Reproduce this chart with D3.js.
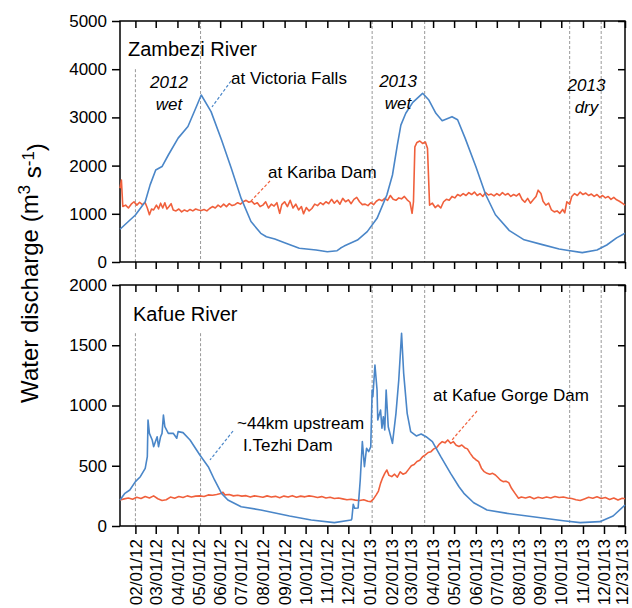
<!DOCTYPE html>
<meta charset="utf-8">
<body style="margin:0">
<script src="https://d3js.org/d3.v7.min.js"></script>
<script>

// Discharge series, [date, m3/s]

var victoriaFalls = [
  ["2012-01-10",680],["2012-02-01",975],["2012-02-15",1250],["2012-02-22",1600],["2012-03-01",1910],
  ["2012-03-10",1980],["2012-03-19",2220],["2012-04-02",2570],["2012-04-16",2810],["2012-04-28",3220],
  ["2012-05-05",3465],["2012-05-19",3120],["2012-06-03",2530],["2012-06-17",1940],["2012-07-01",1320],
  ["2012-07-15",840],["2012-07-29",595],["2012-08-06",525],["2012-08-18",477],["2012-09-01",400],
  ["2012-09-22",284],["2012-10-16",249],["2012-11-01",214],["2012-11-15",235],["2012-11-20",290],
  ["2012-11-25",330],["2012-12-14",456],["2012-12-28",630],["2013-01-11",906],["2013-01-25",1390],
  ["2013-02-02",1805],["2013-02-09",2430],["2013-02-14",2840],["2013-02-21",3085],["2013-03-03",3313],
  ["2013-03-17",3500],["2013-03-26",3360],["2013-04-05",3085],["2013-04-14",2930],["2013-04-28",3015],
  ["2013-05-06",2950],["2013-05-17",2560],["2013-06-01",1980],["2013-06-15",1400],["2013-06-29",980],
  ["2013-07-19",650],["2013-08-09",460],["2013-09-04",360],["2013-09-28",270],["2013-10-09",245],
  ["2013-10-31",195],["2013-11-21",250],["2013-12-05",353],["2013-12-19",500],["2013-12-31",595]
];

var karibaDam = [
  ["2012-01-10",1530],["2012-01-12",1700],["2012-01-14",1150],["2012-01-18",1180],["2012-01-22",1120],
  ["2012-01-26",1200],["2012-01-30",1250],["2012-02-03",1180],["2012-02-07",1240],["2012-02-11",1190],
  ["2012-02-15",1230],["2012-02-18",1120],["2012-02-21",980],["2012-02-24",1100],["2012-02-27",1080],
  ["2012-03-02",1180],["2012-03-05",1100],["2012-03-08",1220],["2012-03-11",1120],["2012-03-14",1230],
  ["2012-03-17",1100],["2012-03-20",1150],["2012-03-23",1210],["2012-03-26",1080],["2012-03-30",1060],
  ["2012-04-03",1100],["2012-04-07",1040],["2012-04-11",1080],["2012-04-15",1050],["2012-04-19",1090],
  ["2012-04-23",1060],["2012-04-27",1100],["2012-05-01",1080],["2012-05-05",1070],["2012-05-09",1090],
  ["2012-05-13",1060],["2012-05-17",1110],["2012-05-21",1150],["2012-05-25",1120],["2012-05-29",1180],
  ["2012-06-02",1140],["2012-06-06",1200],["2012-06-10",1150],["2012-06-14",1210],["2012-06-18",1170],
  ["2012-06-22",1190],["2012-06-26",1230],["2012-06-30",1200],["2012-07-04",1250],["2012-07-08",1280],
  ["2012-07-12",1240],["2012-07-16",1260],["2012-07-20",1200],["2012-07-24",1230],["2012-07-28",1150],
  ["2012-08-01",1180],["2012-08-05",1250],["2012-08-09",1120],["2012-08-13",1200],["2012-08-17",1160],
  ["2012-08-21",1230],["2012-08-25",1010],["2012-08-28",1190],["2012-09-01",1250],["2012-09-05",1150],
  ["2012-09-09",1280],["2012-09-13",1120],["2012-09-17",1200],["2012-09-21",1080],["2012-09-25",1150],
  ["2012-09-28",1000],["2012-10-02",1130],["2012-10-06",1060],["2012-10-10",1110],["2012-10-14",1200],
  ["2012-10-18",1170],["2012-10-22",1230],["2012-10-26",1190],["2012-10-30",1250],["2012-11-03",1210],
  ["2012-11-07",1300],["2012-11-11",1220],["2012-11-15",1280],["2012-11-19",1200],["2012-11-23",1320],
  ["2012-11-27",1250],["2012-12-01",1290],["2012-12-05",1210],["2012-12-09",1300],["2012-12-13",1340],
  ["2012-12-17",1250],["2012-12-21",1190],["2012-12-25",1200],["2012-12-29",1170],["2013-01-02",1230],
  ["2013-01-06",1190],["2013-01-10",1260],["2013-01-14",1300],["2013-01-18",1270],["2013-01-22",1320],
  ["2013-01-26",1280],["2013-01-30",1380],["2013-02-03",1300],["2013-02-07",1280],["2013-02-11",1330],
  ["2013-02-15",1310],["2013-02-19",1360],["2013-02-23",1290],["2013-02-27",1240],["2013-03-02",1010],
  ["2013-03-04",1250],["2013-03-06",2390],["2013-03-09",2480],["2013-03-13",2510],["2013-03-17",2460],
  ["2013-03-21",2490],["2013-03-24",2360],["2013-03-27",1180],["2013-03-31",1220],["2013-04-04",1130],
  ["2013-04-08",1180],["2013-04-12",1120],["2013-04-16",1250],["2013-04-20",1300],["2013-04-24",1280],
  ["2013-04-28",1360],["2013-05-02",1330],["2013-05-06",1400],["2013-05-10",1370],["2013-05-14",1420],
  ["2013-05-18",1380],["2013-05-22",1440],["2013-05-26",1400],["2013-05-30",1450],["2013-06-03",1380],
  ["2013-06-07",1420],["2013-06-11",1360],["2013-06-15",1440],["2013-06-19",1390],["2013-06-23",1410],
  ["2013-06-27",1370],["2013-07-01",1420],["2013-07-05",1380],["2013-07-09",1440],["2013-07-13",1390],
  ["2013-07-17",1420],["2013-07-21",1360],["2013-07-25",1400],["2013-07-29",1370],["2013-08-02",1420],
  ["2013-08-06",1300],["2013-08-10",1240],["2013-08-14",1320],["2013-08-18",1220],["2013-08-22",1290],
  ["2013-08-26",1360],["2013-08-29",1490],["2013-09-02",1420],["2013-09-05",1260],["2013-09-09",1180],
  ["2013-09-13",1220],["2013-09-17",1080],["2013-09-21",1040],["2013-09-25",1060],["2013-09-29",1010],
  ["2013-10-03",1090],["2013-10-06",1020],["2013-10-09",1250],["2013-10-13",1200],["2013-10-16",1360],
  ["2013-10-20",1420],["2013-10-24",1380],["2013-10-28",1450],["2013-11-01",1400],["2013-11-05",1430],
  ["2013-11-09",1380],["2013-11-13",1410],["2013-11-17",1360],["2013-11-21",1400],["2013-11-25",1340],
  ["2013-11-29",1380],["2013-12-03",1330],["2013-12-07",1360],["2013-12-11",1300],["2013-12-15",1340],
  ["2013-12-19",1290],["2013-12-23",1260],["2013-12-27",1220],["2013-12-31",1180]
];

var kafueUpstream = [
  ["2012-01-10",216],["2012-01-17",271],["2012-01-24",299],["2012-02-01",368],["2012-02-08",409],
  ["2012-02-15",479],["2012-02-18",575],["2012-02-19",880],["2012-02-21",769],["2012-02-25",714],
  ["2012-02-27",658],["2012-03-03",741],["2012-03-05",658],["2012-03-08",741],["2012-03-10",769],
  ["2012-03-12",921],["2012-03-14",824],["2012-03-19",769],["2012-03-26",769],["2012-03-31",728],
  ["2012-04-02",783],["2012-04-09",775],["2012-04-19",714],["2012-05-03",589],["2012-05-15",492],
  ["2012-05-24",382],["2012-06-03",271],["2012-06-12",216],["2012-07-01",160],["2012-07-29",133],
  ["2012-09-08",83],["2012-10-09",50],["2012-11-11",28],["2012-12-05",50],["2012-12-06",60],
  ["2012-12-08",180],["2012-12-10",147],["2012-12-15",150],["2012-12-18",382],["2012-12-21",700],
  ["2012-12-24",492],["2012-12-27",645],["2012-12-30",617],["2013-01-02",658],["2013-01-04",1129],
  ["2013-01-05",1073],["2013-01-08",1336],["2013-01-11",1129],["2013-01-12",880],["2013-01-16",963],
  ["2013-01-18",811],["2013-01-20",907],["2013-01-22",797],["2013-01-24",1129],["2013-01-27",824],
  ["2013-02-02",686],["2013-02-07",935],["2013-02-11",1212],["2013-02-15",1599],["2013-02-18",1267],
  ["2013-02-23",935],["2013-02-28",783],["2013-03-08",747],["2013-03-15",764],["2013-03-22",741],
  ["2013-03-31",700],["2013-04-12",575],["2013-04-26",437],["2013-05-08",326],["2013-05-15",271],
  ["2013-05-29",193],["2013-06-17",133],["2013-07-16",105],["2013-08-27",72],["2013-10-04",44],
  ["2013-10-28",28],["2013-11-25",36],["2013-12-14",83],["2013-12-31",174]
];

var kafueGorge = [
  ["2012-01-10",216],["2012-01-16",225],["2012-01-22",232],["2012-01-28",222],["2012-02-03",238],
  ["2012-02-09",228],["2012-02-15",245],["2012-02-21",232],["2012-02-27",250],["2012-03-04",226],
  ["2012-03-10",212],["2012-03-16",218],["2012-03-22",240],["2012-03-28",230],["2012-04-03",245],
  ["2012-04-09",236],["2012-04-15",250],["2012-04-21",240],["2012-04-27",248],["2012-05-03",250],
  ["2012-05-09",245],["2012-05-15",258],["2012-05-21",255],["2012-05-27",262],["2012-06-02",270],
  ["2012-06-05",280],["2012-06-08",258],["2012-06-14",262],["2012-06-20",250],["2012-06-26",255],
  ["2012-07-02",248],["2012-07-08",252],["2012-07-14",240],["2012-07-20",250],["2012-07-26",245],
  ["2012-08-01",238],["2012-08-07",250],["2012-08-13",240],["2012-08-19",246],["2012-08-25",235],
  ["2012-08-31",248],["2012-09-06",240],["2012-09-12",252],["2012-09-18",238],["2012-09-24",248],
  ["2012-09-30",242],["2012-10-06",250],["2012-10-12",245],["2012-10-18",236],["2012-10-24",244],
  ["2012-10-30",232],["2012-11-05",238],["2012-11-11",228],["2012-11-17",232],["2012-11-23",225],
  ["2012-11-29",218],["2012-12-05",222],["2012-12-11",215],["2012-12-17",212],["2012-12-23",218],
  ["2012-12-29",205],["2013-01-02",202],["2013-01-06",225],["2013-01-10",260],["2013-01-13",290],
  ["2013-01-16",354],["2013-01-19",400],["2013-01-22",437],["2013-01-25",465],["2013-01-28",420],
  ["2013-02-01",410],["2013-02-05",430],["2013-02-09",405],["2013-02-13",450],["2013-02-17",430],
  ["2013-02-21",440],["2013-02-25",470],["2013-03-01",500],["2013-03-05",510],["2013-03-09",535],
  ["2013-03-13",545],["2013-03-17",575],["2013-03-21",590],["2013-03-25",610],["2013-03-29",617],
  ["2013-04-02",640],["2013-04-06",650],["2013-04-10",680],["2013-04-14",700],["2013-04-18",690],
  ["2013-04-22",714],["2013-04-26",686],["2013-04-30",700],["2013-05-04",670],["2013-05-08",660],
  ["2013-05-12",672],["2013-05-16",650],["2013-05-20",640],["2013-05-24",603],["2013-05-28",570],
  ["2013-06-01",550],["2013-06-05",534],["2013-06-09",480],["2013-06-13",451],["2013-06-17",437],
  ["2013-06-21",430],["2013-06-25",437],["2013-06-29",423],["2013-07-03",400],["2013-07-06",382],
  ["2013-07-10",368],["2013-07-14",372],["2013-07-18",360],["2013-07-22",313],["2013-07-27",271],
  ["2013-08-01",230],["2013-08-05",240],["2013-08-11",232],["2013-08-17",242],["2013-08-23",226],
  ["2013-08-29",238],["2013-09-04",230],["2013-09-10",240],["2013-09-16",232],["2013-09-22",245],
  ["2013-09-28",236],["2013-10-04",240],["2013-10-10",232],["2013-10-16",228],["2013-10-22",218],
  ["2013-10-28",212],["2013-11-03",225],["2013-11-09",238],["2013-11-15",230],["2013-11-21",242],
  ["2013-11-27",228],["2013-12-03",236],["2013-12-09",220],["2013-12-15",232],["2013-12-21",215],
  ["2013-12-27",230],["2013-12-31",226]
];

var zambeziTicks = [0, 1000, 2000, 3000, 4000, 5000];
var kafueTicks = [0, 500, 1000, 1500, 2000];

var monthTicks = [
  "2012-02-01","2012-03-01","2012-04-01","2012-05-01","2012-06-01","2012-07-01",
  "2012-08-01","2012-09-01","2012-10-01","2012-11-01","2012-12-01","2013-01-01",
  "2013-02-01","2013-03-01","2013-04-01","2013-05-01","2013-06-01","2013-07-01",
  "2013-08-01","2013-09-01","2013-10-01","2013-11-01","2013-12-01","2013-12-31"
];

// season boundaries (dashed grey lines)
var seasonMarks = ["2012-02-01","2012-05-04","2013-01-04","2013-03-20","2013-10-13","2013-11-27"];
// where each dashed line stops at the top (null = panel top)
var zambeziMarkTop = [4000, null, null, null, null, null];
var kafueMarkTop = [1600, 1600, null, null, null, null];

var seasonLabels = [
  {year: "2012", kind: "wet", date: "2012-03-20", dy: 0},
  {year: "2013", kind: "wet", date: "2013-02-10", dy: -1},
  {year: "2013", kind: "dry", date: "2013-11-06", dy: 3}
];

var width = 632,
    height = 608,
    font = "'Liberation Sans', Arial, sans-serif",
    blue = "#4a86c8",
    red = "#f0603c";

var parse = d3.timeParse("%Y-%m-%d");

var svg = d3.select("body").append("svg")
    .attr("width", width)
    .attr("height", height)
    .style("background", "#fff")
    .attr("font-family", font);

var x = d3.scaleTime()
    .domain([parse("2012-01-10"), parse("2013-12-31")])
    .range([120, 625]);

var yTop = d3.scaleLinear().domain([0, 5000]).range([262, 21]);
var yBot = d3.scaleLinear().domain([0, 2000]).range([526, 285]);

var tickDates = monthTicks.map(parse);

function styleAxis(g) {
  g.select(".domain").remove();
  g.attr("font-family", font).attr("font-size", 17);
  g.selectAll(".tick line").attr("stroke", "#000").attr("stroke-width", 1.5);
  g.selectAll(".tick text").attr("fill", "#000");
}

function panel(y, ticks, markTop) {

  // season lines
  svg.append("g").selectAll("line")
    .data(seasonMarks)
    .join("line")
      .attr("x1", function(d) { return x(parse(d)); })
      .attr("x2", function(d) { return x(parse(d)); })
      .attr("y1", function(d, i) { return markTop[i] === null ? y.range()[1] : y(markTop[i]); })
      .attr("y2", y.range()[0])
      .attr("stroke", "#999")
      .attr("stroke-width", 1)
      .attr("stroke-dasharray", "3,2");

  // left axis
  svg.append("g")
      .attr("transform", "translate(120,0)")
      .call(d3.axisLeft(y).tickValues(ticks).tickSize(8).tickPadding(5).tickFormat(d3.format("d")))
      .call(styleAxis);

  // right axis, inward ticks
  svg.append("g")
      .attr("transform", "translate(625,0)")
      .call(d3.axisLeft(y).tickValues(ticks).tickSize(7).tickFormat(""))
      .call(styleAxis);

  // top axis, inward ticks
  svg.append("g")
      .attr("transform", "translate(0," + y.range()[1] + ")")
      .call(d3.axisBottom(x).tickValues(tickDates).tickSize(7).tickFormat(""))
      .call(styleAxis);

  // frame
  svg.append("rect")
      .attr("x", 120)
      .attr("y", y.range()[1])
      .attr("width", 505)
      .attr("height", y.range()[0] - y.range()[1])
      .attr("fill", "none")
      .attr("stroke", "#000")
      .attr("stroke-width", 1.5);
}

panel(yTop, zambeziTicks, zambeziMarkTop);
panel(yBot, kafueTicks, kafueMarkTop);

// bottom ticks of the upper panel (outward)
svg.append("g")
    .attr("transform", "translate(0,262)")
    .call(d3.axisBottom(x).tickValues(tickDates).tickSize(7).tickFormat(""))
    .call(styleAxis);

// date axis
var xAxis = svg.append("g")
    .attr("transform", "translate(0,526)")
    .call(d3.axisBottom(x).tickValues(tickDates).tickSize(8).tickFormat(d3.timeFormat("%m/%d/%y")))
    .call(styleAxis);

xAxis.selectAll(".tick text")
    .attr("transform", "rotate(-90)")
    .attr("x", -13)
    .attr("y", 0)
    .attr("dy", function(d, i) { return i === tickDates.length - 1 ? "0.15em" : "0.33em"; })
    .style("text-anchor", "end");

// lines

function drawLine(data, y, color) {
  var line = d3.line()
      .x(function(d) { return x(parse(d[0])); })
      .y(function(d) { return y(d[1]); });
  svg.append("path")
      .datum(data)
      .attr("fill", "none")
      .attr("stroke", color)
      .attr("stroke-width", 1.6)
      .attr("stroke-linejoin", "round")
      .attr("d", line);
}

drawLine(karibaDam, yTop, red);
drawLine(victoriaFalls, yTop, blue);
drawLine(kafueGorge, yBot, red);
drawLine(kafueUpstream, yBot, blue);

// panel titles

svg.append("text").attr("x", 128).attr("y", 56).attr("font-size", 20).text("Zambezi River");
svg.append("text").attr("x", 133).attr("y", 321).attr("font-size", 20).text("Kafue River");

// season labels

seasonLabels.forEach(function(s) {
  var cx = x(parse(s.date));
  svg.append("text").attr("x", cx).attr("y", 88 + s.dy).attr("font-size", 17)
      .attr("font-style", "italic").attr("text-anchor", "middle").text(s.year);
  svg.append("text").attr("x", cx).attr("y", 110 + s.dy).attr("font-size", 17)
      .attr("font-style", "italic").attr("text-anchor", "middle").text(s.kind);
});

// annotations with dashed leaders

function note(lines, tx, ty, leader, color) {
  lines.forEach(function(t, i) {
    svg.append("text")
        .attr("x", tx[i])
        .attr("y", ty + i * 22)
        .attr("font-size", 17)
        .text(t);
  });
  svg.append("line")
      .attr("x1", leader[0]).attr("y1", leader[1])
      .attr("x2", leader[2]).attr("y2", leader[3])
      .attr("stroke", color)
      .attr("stroke-width", 1.2)
      .attr("stroke-dasharray", "3,2");
}

note(["at Victoria Falls"], [231], 84, [231, 81, 212, 107], blue);
note(["at Kariba Dam"], [268], 178, [270, 181, 251, 201], red);
note(["~44km upstream", "I.Tezhi Dam"], [237, 243], 429, [233, 431, 210, 460], blue);
note(["at Kafue Gorge Dam"], [433], 401, [477, 411, 452, 440], red);

// y title

var title = svg.append("text")
    .attr("transform", "translate(38,273) rotate(-90)")
    .attr("text-anchor", "middle")
    .attr("font-size", 24);

title.append("tspan").text("Water discharge (m");
title.append("tspan").attr("dy", "-0.45em").attr("font-size", 17).text("3");
title.append("tspan").attr("dy", "0.45em").text(" s");
title.append("tspan").attr("dy", "-0.45em").attr("font-size", 17).text("-1");
title.append("tspan").attr("dy", "0.45em").text(")");

</script>
